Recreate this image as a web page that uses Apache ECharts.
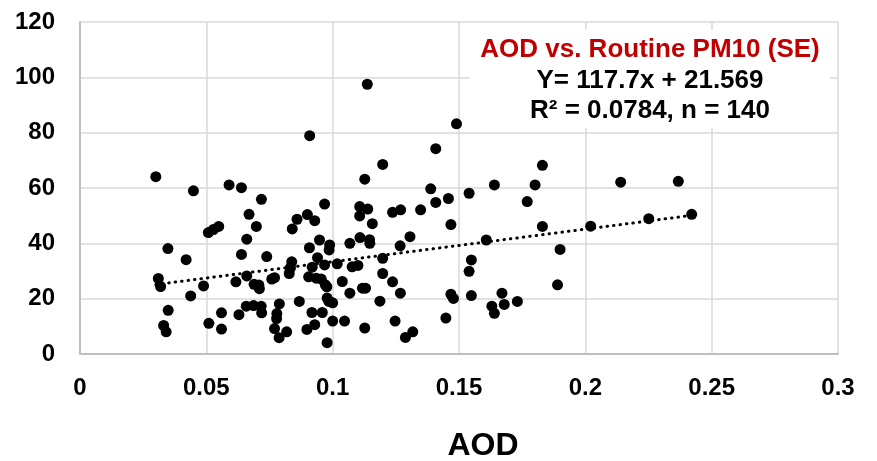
<!DOCTYPE html>
<html>
<head>
<meta charset="utf-8">
<script src="https://cdn.jsdelivr.net/npm/echarts@6/dist/echarts.min.js"></script>
<style>
html,body{margin:0;padding:0;background:#fff;}
#chart{width:877px;height:461px;}
</style>
</head>
<body>
<div id="chart"></div>
<script>
// AOD (x) values
const aodValues = [
0.1137,0.1490,0.0909,0.1408,0.1198,0.0300,0.1127,0.0449,0.0590,0.0639,
0.1388,0.0718,0.1408,0.1458,0.0968,0.1107,0.1139,0.1107,0.1237,0.1269,
0.1348,0.0669,0.0900,0.0929,0.0859,0.1157,0.1468,0.0508,0.0528,0.0549,
0.0698,0.0840,0.0660,0.0948,0.1108,0.1146,0.1147,0.1306,0.1068,0.0988,
0.0986,0.0348,0.0908,0.1267,0.0639,0.0739,0.0420,0.0940,0.0838,0.1198,
0.0968,0.0919,0.1018,0.1077,0.1100,0.0833,0.0828,0.0310,0.0319,0.0489,
0.0617,0.0660,0.0689,0.0708,0.0710,0.0759,0.0770,0.0905,0.0935,0.0955,
0.0971,0.0977,0.1038,0.1198,0.1237,0.1268,0.1068,0.1118,0.1130,0.0438,
0.0658,0.0687,0.0717,0.0719,0.0789,0.0868,0.0978,0.0985,0.1000,0.0959,
0.0918,0.0349,0.0560,0.0629,0.0779,0.0778,0.1187,0.1468,0.1478,0.1448,
0.1000,0.1047,0.1247,0.0510,0.0331,0.0341,0.0560,0.0770,0.0788,0.0818,
0.0898,0.0929,0.1127,0.1288,0.1317,0.0978,
0.1830,0.1640,0.1801,0.2140,0.2368,0.1540,0.1770,0.1830,0.2021,0.2251,
0.2421,0.1608,0.1900,0.1549,0.1540,0.1890,0.1549,0.1670,0.1731,0.1679,
0.1630,0.1640
];
// Routine PM10 (y) values
const pm10Values = [
97.5,83.2,78.9,74.2,68.5,64.1,63.2,59.0,61.1,60.1,
59.7,55.9,54.8,56.2,54.2,53.3,52.4,49.9,51.2,52.1,
52.1,50.5,50.4,48.2,48.7,47.1,46.8,43.9,45.0,46.1,
46.1,45.2,41.5,41.2,42.1,41.3,40.0,42.4,40.0,39.4,
37.6,38.1,38.4,39.1,36.0,35.2,34.1,34.8,33.3,34.6,
32.2,31.4,32.6,31.5,32.0,31.2,29.1,27.3,24.4,24.6,
26.1,28.2,25.2,24.9,23.6,27.1,27.6,27.9,27.4,27.1,
25.0,24.3,26.2,29.1,26.1,22.0,22.0,23.8,23.8,21.0,
17.3,17.5,17.3,14.9,18.1,19.0,20.2,19.0,18.5,15.0,
15.0,15.8,14.9,14.2,14.6,12.8,19.1,21.6,20.1,13.0,
11.9,11.9,11.9,11.1,10.3,8.0,9.0,9.2,5.9,8.0,
8.9,10.6,9.4,6.0,8.0,4.1,
68.2,61.1,61.1,62.1,62.4,58.1,55.1,46.1,46.2,48.9,
50.5,41.2,37.8,34.0,29.9,25.0,21.1,22.0,19.0,17.9,
17.3,14.7
];
// trend line end points (as drawn)
const trendX = [0.030, 0.2421];
const trendY = [25.1, 50.1];
// annotation text
const annotTitle = 'AOD vs. Routine PM10 (SE)';
const annotEq = 'Y= 117.7x + 21.569';
const annotR2 = 'R\u00b2 = 0.0784, n = 140';
const xName = 'AOD';

const FONT = '"Liberation Sans", Arial, sans-serif';
const points = aodValues.map((x, i) => [x, pm10Values[i]]);
const trend = trendX.map((x, i) => [x, trendY[i]]);

const chart = echarts.init(document.getElementById('chart'), null, {renderer: 'canvas'});
chart.setOption({
  animation: false,
  backgroundColor: '#ffffff',
  grid: {left: 80, right: 39, top: 22, bottom: 107, containLabel: false, outerBoundsMode: 'none'},
  xAxis: {
    type: 'value', min: 0, max: 0.3, interval: 0.05,
    axisLine: {show: true, lineStyle: {color: '#bfbfbf', width: 2}},
    axisTick: {show: false},
    splitLine: {show: true, lineStyle: {color: '#d9d9d9', width: 1.5}},
    axisLabel: {color: '#000', fontFamily: FONT, fontWeight: 'bold', fontSize: 24, margin: 22,
      showMinLabel: true, showMaxLabel: true},
    name: xName, nameLocation: 'middle', nameGap: 76,
    nameTextStyle: {color: '#000', fontFamily: FONT, fontWeight: 'bold', fontSize: 32,
      padding: [0, 0, 0, 48]}
  },
  yAxis: {
    type: 'value', min: 0, max: 120, interval: 20,
    axisLine: {show: true, lineStyle: {color: '#bfbfbf', width: 2}},
    axisTick: {show: false},
    splitLine: {show: true, lineStyle: {color: '#d9d9d9', width: 1.5}},
    axisLabel: {color: '#000', fontFamily: FONT, fontWeight: 'bold', fontSize: 24, margin: 25}
  },
  series: [
    {
      type: 'line', data: trend, symbol: 'none', z: 3,
      lineStyle: {color: '#000', width: 3, type: [0.5, 6], cap: 'round'}
    },
    {
      type: 'scatter', data: points, symbol: 'circle', symbolSize: 11, z: 4,
      itemStyle: {color: '#000', opacity: 1}
    }
  ],
  graphic: [
    {type: 'rect', left: 470, top: 30, shape: {width: 360, height: 98}, style: {fill: '#fff'}, z: 1},
    {type: 'text', x: 650, y: 50, z: 2, style: {text: annotTitle, fill: '#c00000',
      font: 'bold 26px ' + FONT, textAlign: 'center', textVerticalAlign: 'middle'}},
    {type: 'text', x: 650, y: 81, z: 2, style: {text: annotEq, fill: '#000',
      font: 'bold 26px ' + FONT, textAlign: 'center', textVerticalAlign: 'middle'}},
    {type: 'text', x: 650, y: 111, z: 2, style: {text: annotR2, fill: '#000',
      font: 'bold 26px ' + FONT, textAlign: 'center', textVerticalAlign: 'middle'}}
  ]
});
</script>
</body>
</html>
